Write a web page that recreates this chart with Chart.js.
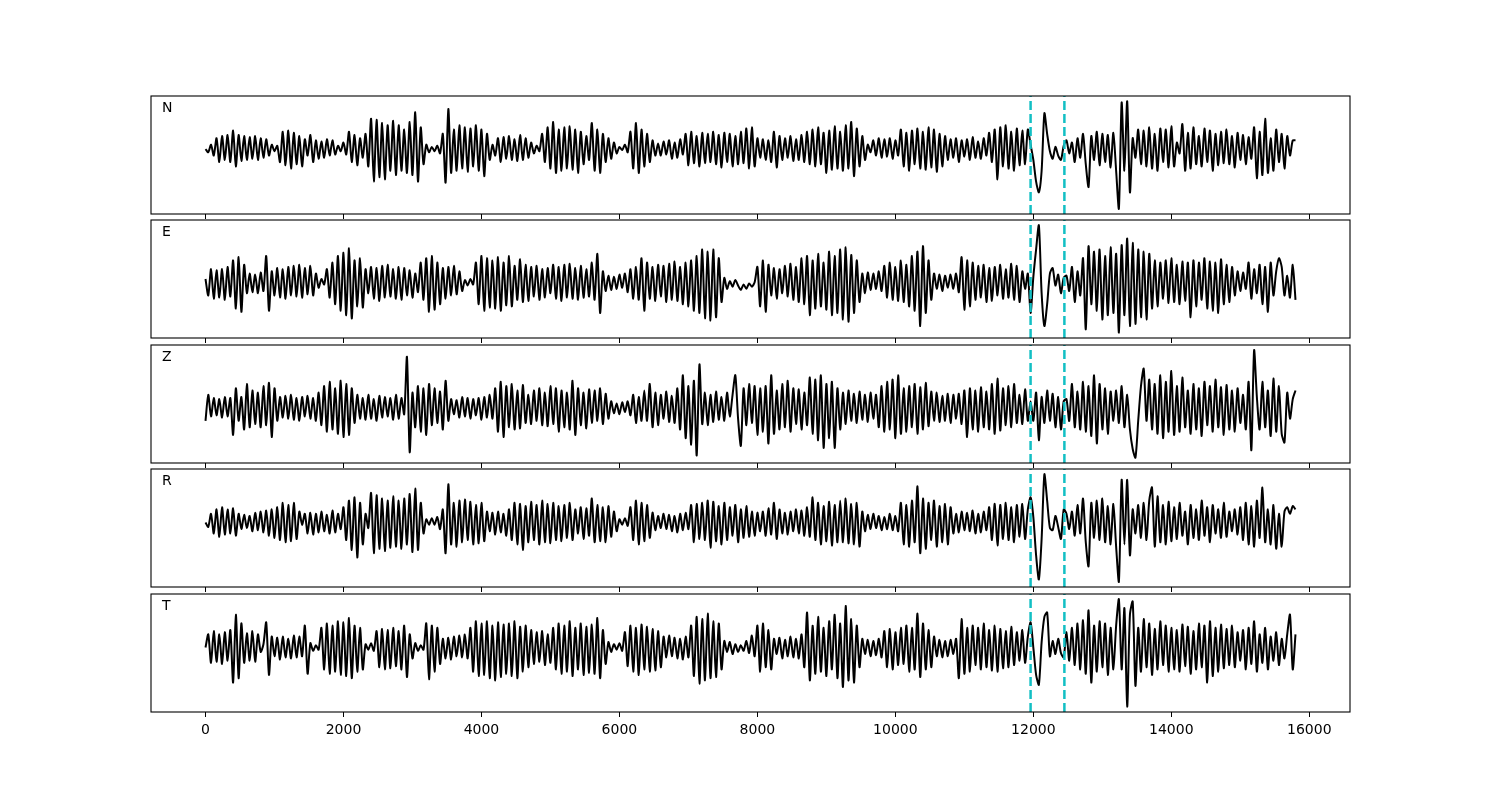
<!DOCTYPE html>
<html>
<head>
<meta charset="utf-8">
<title>Traces</title>
<script src="https://cdn.jsdelivr.net/npm/chart.js@4.4.1/dist/chart.umd.min.js"></script>
<style>
  html, body { margin: 0; padding: 0; background: #fff; }
  #wrap { position: relative; width: 1500px; height: 800px; }
  #wrap canvas { position: absolute; left: 0; }
</style>
</head>
<body>
<div id="wrap"></div>
<script>
/* =========================
   DATA
========================= */
const components = ["N", "E", "Z", "R", "T"];
const sampleStep = 40;            // one value every 40 samples
const picks = [11960, 12450];     // dashed markers
const xTicks = [0, 2000, 4000, 6000, 8000, 10000, 12000, 14000, 16000];

const traceN = [
  0, -3, 4, -6, 10, -12, 12, -10, 13, -12,
  17, -16, 13, -11, 12, -10, 11, -9, 12, -10,
  10, -8, 9, -6, 4, -2, 3, -12, 16, -15,
  17, -18, 15, -14, 12, -16, 9, -6, 13, -12,
  8, -9, 7, -8, 9, -6, 8, -5, 3, -2,
  6, -5, 16, -12, 13, -15, 10, -8, 14, -16,
  28, -30, 27, -26, 24, -28, 22, -20, 26, -24,
  22, -20, 18, -22, 25, -24, 34, -30, 20, -14,
  4, -3, 2, -2, 3, -4, 14, -31, 37, -22,
  18, -20, 22, -18, 20, -21, 19, -16, 22, -20,
  18, -25, 14, -10, 4, -6, 10, -12, 11, -9,
  12, -10, 9, -11, 13, -10, 10, -8, 6, -4,
  3, -2, 14, -12, 20, -18, 25, -22, 18, -20,
  20, -18, 21, -19, 18, -22, 16, -14, 12, -10,
  24, -20, 18, -22, 14, -12, 10, -9, 6, -4,
  2, -1, 4, -3, 16, -18, 24, -22, 18, -16,
  14, -12, 8, -6, 5, -6, 7, -5, 8, -9,
  6, -8, 9, -5, 14, -15, 16, -13, 12, -16,
  15, -13, 14, -12, 16, -14, 13, -17, 15, -12,
  14, -16, 12, -14, 16, -13, 19, -18, 20, -16,
  10, -8, 9, -10, 8, -12, 16, -17, 12, -10,
  10, -8, 12, -11, 9, -10, 13, -12, 16, -14,
  18, -16, 20, -14, 15, -22, 17, -19, 21, -18,
  16, -20, 22, -18, 25, -25, 19, -16, 12, -10,
  4, -3, 8, -6, 10, -8, 9, -7, 10, -9,
  8, -6, 18, -16, 15, -20, 17, -14, 19, -18,
  16, -19, 20, -17, 18, -21, 14, -16, 12, -10,
  9, -8, 10, -12, 8, -7, 9, -10, 11, -8,
  7, -9, 10, -6, 15, -12, 18, -28, 20, -16,
  22, -18, 16, -20, 19, -15, 17, -14, 18, 4,
  -10, -30, -40, -20, 33, 14, -2, -9, 2, -6,
  -10, 3, 8, -4, 6, -12, 10, -8, 14, -14,
  -35, 12, -10, 16, -15, 14, -12, 13, -17, 15,
  -20, -55, 43, -20, 44, -40, 10, -8, 18, -14,
  17, -16, 20, -18, 14, -20, 19, -12, 18, -17,
  21, -16, 6, -4, 23, -20, 15, -18, 20, -14,
  12, -16, 19, -12, 17, -20, 14, -15, 16, -13,
  18, -14, 12, -17, 15, -10, 13, -14, 11, -9,
  20, -27, 16, -24, 28, -22, 10, -20, 18, -12,
  14, -18, 12, -6, 8, 8
];

const traceE = [
  3, -12, 12, -15, 11, -14, 12, -16, 14, -13,
  20, -24, 23, -27, 16, -10, 8, -9, 7, -10,
  9, -8, 24, -26, 10, -12, 13, -14, 12, -15,
  14, -12, 15, -13, 16, -14, 13, -11, 15, -12,
  8, -5, 3, -2, 12, -14, 18, -20, 24, -26,
  27, -30, 31, -33, 20, -22, 22, -23, 12, -10,
  14, -15, 13, -17, 15, -14, 16, -13, 12, -15,
  14, -16, 13, -12, 11, -14, 8, -9, 18, -16,
  22, -27, 24, -25, 18, -20, 13, -15, 14, -12,
  15, -11, 10, -8, 2, -3, 3, -2, 18, -20,
  24, -26, 22, -23, 20, -24, 23, -26, 18, -21,
  24, -22, 15, -16, 21, -18, 16, -17, 14, -13,
  15, -16, 12, -14, 13, -10, 16, -15, 14, -17,
  16, -14, 17, -15, 13, -16, 15, -14, 12, -13,
  18, -16, 26, -28, 10, -8, 6, -7, 5, -6,
  7, -5, 8, -9, 12, -15, 14, -16, 22, -26,
  18, -15, 14, -17, 16, -13, 15, -18, 17, -16,
  19, -17, 14, -20, 18, -22, 20, -26, 24, -28,
  30, -33, 28, -35, 30, -32, 22, -18, 4, -6,
  1, -4, 2, -3, -7, -2, -6, -1, -4, 0,
  14, -22, 20, -27, 16, -12, 13, -15, 12, -10,
  15, -13, 17, -16, 14, -18, 22, -20, 24, -30,
  20, -24, 26, -22, 18, -25, 28, -30, 24, -28,
  30, -34, 32, -36, 25, -28, 20, -18, 8, -10,
  9, -7, 8, -6, 10, -8, 15, -14, 18, -16,
  14, -17, 20, -18, 16, -22, 24, -26, 28, -40,
  33, -28, 20, -16, 8, -6, 7, -8, 6, -5,
  7, -6, 8, -9, 23, -25, 20, -22, 18, -16,
  15, -14, 16, -18, 13, -17, 14, -12, 16, -15,
  12, -14, 17, -16, 15, -18, 10, -6, 8, -28,
  5, 30, 52, -10, -40, -20, 8, 13, -3, 7,
  -10, 4, 6, -8, 14, -18, 10, -12, 22, -43,
  33, -20, 28, -26, 30, -34, 24, -30, 32, -28,
  26, -46, 34, -30, 40, -40, 36, -38, 30, -32,
  28, -34, 26, -24, 20, -22, 18, -15, 20, -19,
  22, -18, 16, -20, 19, -17, 18, -32, 20, -22,
  18, -16, 22, -24, 19, -26, 18, -28, 21, -20,
  16, -18, 14, -12, 10, -8, 9, -6, 18, -15,
  12, -10, 16, -20, 14, -27, 18, -12, 10, 22,
  14, -12, 6, -14, 16, -16
];

const traceZ = [
  -12, 12, -8, 9, -7, 8, -9, 10, -8, 9,
  -25, 18, -12, 10, -20, 22, -18, 16, -15, 14,
  -18, 20, -16, 23, -27, 18, -12, 10, -9, 11,
  -10, 12, -11, 9, -12, 10, -8, 11, -10, 9,
  -12, 14, -16, 20, -22, 24, -20, 18, -24, 25,
  -27, 22, -25, 18, -14, 12, -10, 9, -11, 12,
  -10, 8, -12, 11, -9, 10, -8, 9, -11, 12,
  -10, 9, -6, 47, -41, 14, -18, 20, -22, 18,
  -25, 22, -16, 18, -14, 15, -20, 25, -12, 8,
  -6, 7, -9, 10, -8, 9, -10, 8, -7, 9,
  -11, 10, -9, 12, -10, 18, -22, 24, -27, 20,
  -18, 22, -20, 16, -19, 21, -14, 12, -15, 16,
  -12, 18, -16, 14, -17, 20, -15, 18, -22, 16,
  -18, 14, -20, 25, -25, 18, -16, 14, -19, 17,
  -14, 16, -12, 18, -15, 13, -10, 6, -5, 4,
  -6, 5, -4, 6, -7, 12, -14, 10, -12, 16,
  -12, 22, -18, 14, -16, 12, -10, 15, -13, 11,
  -14, 18, -20, 30, -28, 20, -34, 25, -44, 40,
  -15, 14, -16, 12, -13, 15, -11, 10, -12, 14,
  -8, 12, 30, -10, -35, 18, -16, 22, -14, 20,
  -25, 18, -22, 20, -33, 30, -24, 16, -20, 22,
  -18, 25, -22, 18, -15, 17, -20, 14, -16, 28,
  -24, 26, -30, 30, -37, 22, -28, 24, -37, 18,
  -20, 14, -15, 16, -12, 13, -14, 15, -11, 12,
  -13, 14, -10, 12, -18, 20, -22, 24, -20, 26,
  -28, 30, -24, 18, -22, 20, -18, 22, -24, 19,
  -20, 23, -17, 15, -12, 14, -13, 11, -12, 13,
  -14, 12, -10, 13, -15, 16, -27, 18, -20, 16,
  -22, 19, -18, 15, -20, 22, -24, 27, -21, 18,
  -16, 20, -18, 22, -14, 12, -15, 17, -12, 6,
  -12, 14, -30, 10, -14, 16, -12, 13, -18, 10,
  -20, 6, 8, -12, 22, -18, 15, -20, 24, -22,
  20, -26, 30, -33, 22, -20, 18, -24, 15, -12,
  16, -14, 20, -18, 12, -20, -38, -46, -12, 20,
  36, -12, 26, -20, 22, -24, 30, -28, 24, -22,
  34, -25, 20, -22, 28, -18, 16, -24, 22, -20,
  18, -26, 24, -16, 20, -22, 26, -18, 19, -25,
  21, -20, 16, -22, 18, -14, 12, -20, 24, -39,
  53, 10, -20, 24, -18, 16, -26, 27, -22, 20,
  -24, -32, 14, -10, 8, 16
];

const traceR = [
  0, -4, 8, -10, 12, -13, 14, -11, 12, -10,
  13, -12, 8, -6, 7, -5, 6, -8, 9, -7,
  10, -9, 11, -12, 12, -14, 14, -16, 18, -18,
  16, -17, 18, -15, 10, -2, 8, -10, 9, -11,
  8, -9, 10, -8, 7, -10, 11, -9, 8, -6,
  14, -16, 20, -25, 23, -32, 18, -20, 8, -5,
  27, -28, 25, -24, 22, -26, 20, -23, 24, -22,
  20, -24, 22, -20, 26, -27, 31, -25, 18, -10,
  3, -2, 4, -2, 5, -6, 12, -28, 35, -20,
  18, -22, 20, -18, 21, -16, 19, -20, 16, -19,
  18, -17, 10, -8, 9, -11, 10, -9, 8, -12,
  12, -16, 18, -20, 17, -25, 15, -18, 19, -16,
  16, -20, 20, -18, 17, -19, 18, -16, 15, -17,
  16, -14, 18, -16, 12, -10, 14, -15, 13, -12,
  22, -18, 16, -17, 14, -18, 15, -13, 10, -8,
  3, -2, 4, -3, 14, -16, 20, -20, 18, -17,
  16, -14, 9, -7, 6, -5, 8, -6, 7, -8,
  6, -9, 8, -7, 9, -6, 16, -18, 17, -15,
  18, -16, 20, -23, 19, -17, 15, -20, 18, -16,
  14, -12, 16, -18, 12, -14, 15, -13, 10, -12,
  9, -8, 10, -12, 13, -11, 18, -15, 12, -10,
  9, -11, 10, -8, 12, -10, 11, -12, 14, -13,
  23, -16, 18, -20, 15, -17, 19, -21, 16, -18,
  20, -18, 22, -19, 17, -20, 18, -22, 10, -8,
  7, -6, 8, -5, 6, -7, 5, -6, 8, -7,
  6, -8, 18, -20, 16, -22, 20, -18, 33, -28,
  22, -24, 18, -16, 20, -22, 15, -18, 17, -20,
  14, -10, 8, -9, 10, -7, 9, -8, 11, -10,
  8, -9, 10, -7, 14, -16, 17, -21, 16, -15,
  18, -16, 14, -18, 16, -13, 17, -15, 12, 23,
  5, -30, -52, -15, 44, 20, -5, -7, 6, -4,
  -15, 12, 8, -6, 10, -12, 16, -10, 22, -18,
  -40, 18, -14, 20, -16, 22, -18, 15, -20, 17,
  -22, -54, 39, -20, 39, -30, 12, -10, 16, -14,
  18, -16, 20, 32, -22, 24, -18, 16, -20, 19,
  -17, 14, -15, 18, -12, 10, -20, 16, -14, 12,
  -16, 20, -12, 14, -18, 16, -10, 12, -14, 18,
  -13, 10, -8, 12, -11, 14, -16, 18, -20, 15,
  -22, 20, -14, 32, -18, 12, -20, 16, -24, 8,
  -22, 10, 14, 8, 15, 12
];

const traceT = [
  0, 12, -14, 15, -13, 12, -15, 14, -12, 16,
  -32, 30, -28, 22, -14, 13, -12, 15, -13, 12,
  -4, 3, 23, -25, 10, -8, 9, -11, 10, -9,
  8, -10, 11, -9, 10, -8, 20, -24, 4, -3,
  2, -2, 18, -20, 22, -24, 20, -22, 24, -25,
  23, -26, 27, -28, 20, -22, 18, -20, 3, -2,
  4, -3, 15, -18, 17, -20, 16, -19, 18, -17,
  15, -20, 20, -27, 12, -10, 4, -3, 2, -2,
  22, -29, 20, -22, 18, -15, 8, -10, 9, -11,
  10, -8, 11, -9, 12, -10, 18, -22, 24, -26,
  22, -25, 24, -28, 20, -30, 23, -27, 21, -24,
  22, -26, 24, -28, 19, -22, 20, -18, 16, -15,
  14, -13, 15, -16, 12, -14, 18, -20, 22, -24,
  20, -22, 24, -26, 18, -20, 22, -25, 19, -23,
  21, -24, 27, -28, 16, -15, 5, -4, 3, -2,
  4, -3, 14, -17, 20, -22, 18, -25, 21, -20,
  19, -22, 17, -21, 15, -18, 10, -9, 11, -8,
  9, -10, 8, -11, 10, -9, 20, -26, 28, -33,
  26, -30, 31, -28, 24, -27, 22, -20, 6, -4,
  5, -6, 3, -4, 2, -3, 6, -5, 11, -8,
  20, -22, 22, -18, 16, -20, 8, -6, 9, -10,
  7, -8, 10, -9, 8, -10, 12, -18, 32, -30,
  20, -24, 28, -22, 18, -26, 24, -20, 30, -28,
  22, -36, 38, -30, 26, -32, 20, -18, 8, -6,
  7, -8, 6, -7, 8, -9, 15, -18, 17, -20,
  14, -16, 18, -15, 20, -22, 18, -20, 31, -27,
  22, -20, 16, -18, 10, -8, 7, -9, 6, -8,
  7, -6, 8, -28, 26, -24, 18, -22, 20, -16,
  18, -20, 22, -18, 16, -21, 20, -22, 17, -19,
  15, -18, 19, -16, 14, -12, 16, -14, 10, 23,
  0, -25, -34, 5, 28, 32, -8, 6, -6, 8,
  -5, -9, 14, -12, 18, -16, 22, -20, 25, -24,
  34, -32, 20, -22, 24, -18, 22, -25, 18, -20,
  20, 44, -20, 36, -54, 30, 42, -35, 18, -22,
  26, -18, 22, -25, 17, -20, 24, -16, 20, -22,
  18, -20, 16, -22, 21, -17, 19, -24, 15, -20,
  22, -18, 20, -32, 24, -26, 18, -22, 21, -19,
  17, -16, 20, -18, 14, -12, 16, -20, 18, -15,
  24, -22, 12, -14, 18, -20, 10, -12, 14, -16,
  8, -10, 12, 30, -20, 12
];

const traces = [traceN, traceE, traceZ, traceR, traceT];

/* =========================
   LAYOUT
========================= */
const plotLeft = 151, plotRight = 1350;
const panelTop0 = 96, panelPitch = 124.4, panelH = 118;
const pad = 2;

/* =========================
   FRAME + COMPONENT LABEL
========================= */
const framePlugin = {
  id: "frame",
  afterDraw(chart, args, opts) {
    const { ctx, chartArea: a } = chart;
    ctx.save();
    ctx.strokeStyle = "#000";
    ctx.lineWidth = 1.1;
    ctx.strokeRect(a.left, a.top, a.right - a.left, a.bottom - a.top);
    ctx.fillStyle = "#000";
    ctx.font = '14px "DejaVu Sans"';
    ctx.textBaseline = "middle";
    ctx.fillText(opts.label, a.left + 11, a.top + 12);
    ctx.restore();
  }
};

const wrap = document.getElementById("wrap");

components.forEach((name, k) => {
  const values = traces[k];
  const isLast = k === components.length - 1;
  const axisH = isLast ? 40 : 8;

  const lo = Math.min(...values), hi = Math.max(...values);
  const margin = (hi - lo) * 0.05;
  const yMin = lo - margin, yMax = hi + margin;

  const canvas = document.createElement("canvas");
  canvas.width = 1500;
  canvas.height = panelH + axisH + pad;
  canvas.style.top = Math.round(panelTop0 + k * panelPitch) - pad + "px";
  wrap.appendChild(canvas);

  const pickSets = picks.map(p => ({
    data: [{ x: p, y: yMin }, { x: p, y: yMax }],
    borderColor: "#12bfc4",
    borderWidth: 2.5,
    borderDash: [9, 4],
    pointRadius: 0,
    order: 1
  }));

  new Chart(canvas, {
    type: "line",
    data: {
      datasets: [{
        data: values.map((v, i) => ({ x: i * sampleStep, y: v })),
        borderColor: "#000",
        borderWidth: 2,
        pointRadius: 0,
        tension: 0.25,
        order: 2
      }, ...pickSets]
    },
    options: {
      responsive: false,
      animation: false,
      events: [],
      layout: { padding: { left: plotLeft, right: 1500 - plotRight, top: pad, bottom: 0 } },
      plugins: {
        legend: { display: false },
        tooltip: { enabled: false },
        frame: { label: name }
      },
      scales: {
        x: {
          type: "linear",
          min: -790,
          max: 16590,
          afterBuildTicks: s => { s.ticks = xTicks.map(v => ({ value: v })); },
          afterFit: s => { s.height = axisH; },
          border: { display: false },
          grid: { drawOnChartArea: false, drawTicks: true, tickLength: 5, color: "#000", lineWidth: 1 },
          ticks: {
            display: isLast,
            padding: 5,
            color: "#000",
            maxRotation: 0,
            autoSkip: false,
            font: { family: "DejaVu Sans", size: 14 },
            callback: v => String(v)
          }
        },
        y: { display: false, min: yMin, max: yMax }
      }
    },
    plugins: [framePlugin]
  });
});
</script>
</body>
</html>
